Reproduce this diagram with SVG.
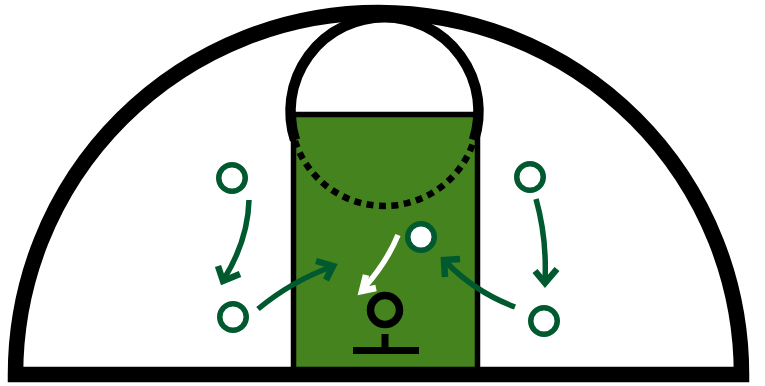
<svg xmlns="http://www.w3.org/2000/svg" width="765" height="386" viewBox="0 0 765 386">
<style>
.k{fill:none;stroke:#000}
.p{fill:none;stroke:#00592f;stroke-width:5.500}
.a{fill:none;stroke:#00592f;stroke-width:5.500}
.h{fill:none;stroke:#00592f;stroke-width:6.500}
.w{fill:none;stroke:#fff;stroke-width:5.500}
.wh{fill:none;stroke:#fff;stroke-width:6.500}
</style>
<rect width="765" height="386" fill="#fff"/>
<g id="court">
<rect x="293.500" y="114.500" width="184" height="256" fill="#44831e" stroke="#000" stroke-width="5.500"/>
<path class="k" stroke-width="15.500" d="M15.500 374.500H741.500A363 362 0 0 0 15.500 374.500Z"/>
<path class="k" stroke-width="10.500" d="M295 140A94 94 0 1 1 474 140"/>
<path class="k" stroke-width="6.500" stroke-dasharray="7 5.500" d="M295 141A94 94 0 0 0 475 137"/>
</g>
<g id="connectors">
<path class="a" d="M249 200Q248 240 224 279"/><path class="h" d="M218 266L223 281L240 274"/>
<path class="a" d="M258 309Q292 281 331 267"/><path class="h" d="M316 261L333 266L326 280"/>
<path class="w" d="M398 235Q387 262 364 288"/><path class="wh" d="M366 275L362 291L376 288"/>
<path class="a" d="M536 199Q547 238 545 281"/><path class="h" d="M535 271L545 283L557 269"/>
<path class="a" d="M515 307Q475 292 446 262"/><path class="h" d="M460 259L444 260L445 277"/>
</g>
<g id="player-top-left"><circle class="p" cx="232" cy="178" r="13.250"/></g>
<g id="player-bottom-left"><circle class="p" cx="233" cy="317" r="13.250"/></g>
<g id="player-top-right"><circle class="p" cx="530" cy="177" r="13.250"/></g>
<g id="player-bottom-right"><circle class="p" cx="544" cy="321" r="13.250"/></g>
<g id="player-ball"><circle cx="421" cy="237" r="13.250" fill="#fff" stroke="#00592f" stroke-width="5.500"/></g>
<g id="hoop">
<circle cx="385" cy="310" r="14.500" fill="none" stroke="#000" stroke-width="7.500"/>
<rect x="381.500" y="334" width="7" height="15"/>
<rect x="353" y="347" width="66" height="7"/>
</g>
</svg>
